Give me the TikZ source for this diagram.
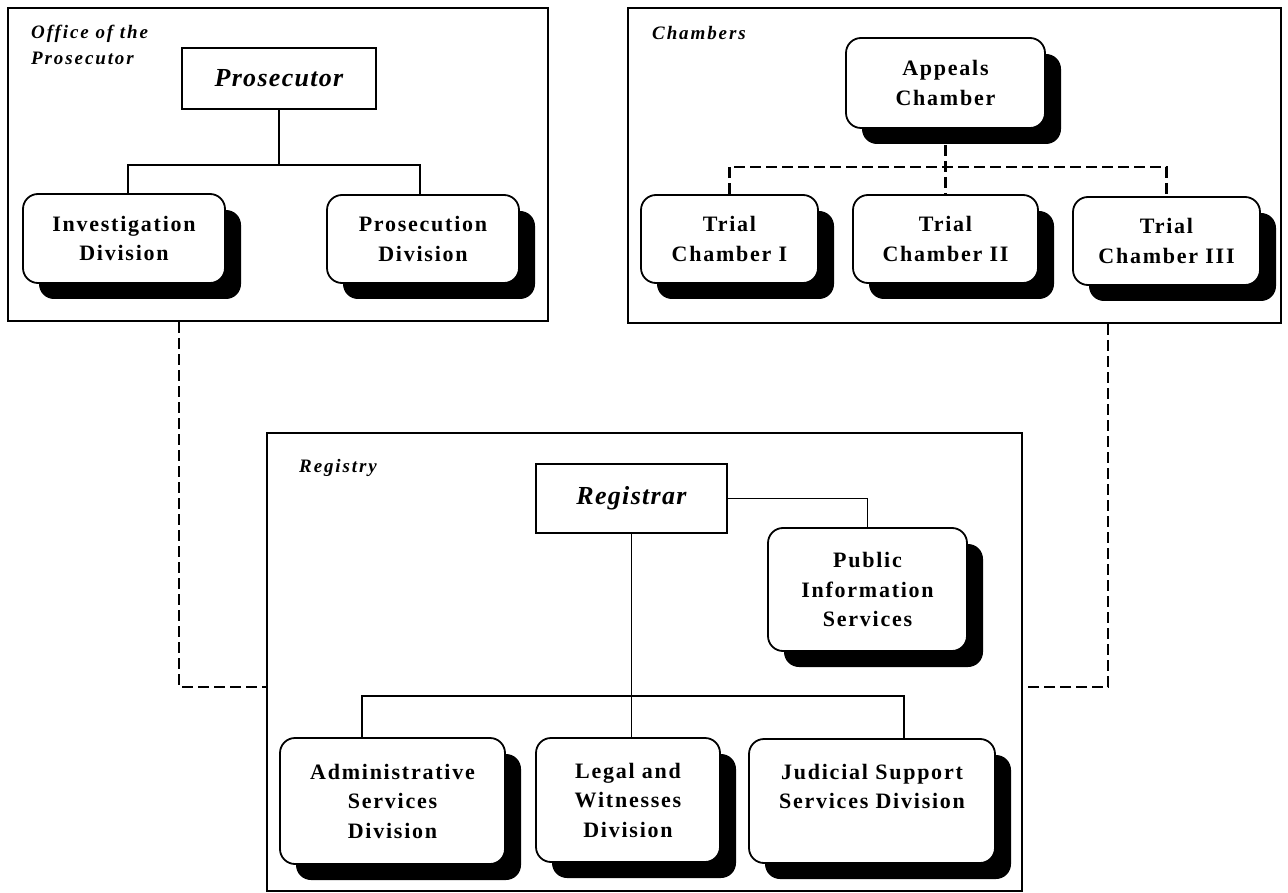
\documentclass[tikz,border=0pt]{standalone}
\usepackage{fontspec}
\setmainfont{Liberation Serif}
\newfontfamily\boxfont[LetterSpace=8]{Liberation Serif}
\newfontfamily\labfont[LetterSpace=10]{Liberation Serif}
\newfontfamily\headfont[LetterSpace=5]{Liberation Serif}
\usetikzlibrary{shadows,backgrounds}
\begin{document}
\begin{tikzpicture}[x=1pt,y=-1pt,
  frame/.style={draw,line width=2pt,inner sep=0pt},
  hbox/.style={draw,line width=1.8pt,fill=white,inner sep=0pt,
    font=\headfont\bfseries\itshape\fontsize{26}{30}\selectfont},
  rbox/.style={draw,line width=1.8pt,fill=white,rounded corners=15pt,inner sep=0pt,
    align=center,font=\boxfont\bfseries\fontsize{22}{29.5}\selectfont,
    general shadow={fill=black,shadow xshift=16pt,shadow yshift=-16pt}},
  lab/.style={inner sep=0pt,font=\labfont\bfseries\itshape\fontsize{19}{24}\selectfont},
  conn/.style={line width=1.9pt},
  dconn/.style={line width=2.3pt,dash pattern=on 11pt off 5pt}]
\useasboundingbox (0,0) rectangle (1288,893);

% frames
\node[frame,minimum width=540pt,minimum height=313pt] (office) at (278,164.5) {};
\node[frame,minimum width=653pt,minimum height=315pt] (chambers) at (954.5,165.5) {};
\node[frame,minimum width=755pt,minimum height=458pt] (registry) at (644.5,662) {};

% labels
\node[lab,anchor=base west] (lo1) at (31,39) {Office of the};
\node[lab,anchor=base west] (lo2) at (31,65) {Prosecutor};
\node[lab,anchor=base west] (lc) at (652,40) {Chambers};
\node[lab,anchor=base west] (lr) at (299,472) {Registry};

% office
\node[hbox,minimum width=194pt,minimum height=61pt] (pros) at (279,78.5) {Prosecutor};
\node[rbox,minimum width=202pt,minimum height=89pt] (inv) at (124,238.5) {Investigation\\Division};
\node[rbox,minimum width=192pt,minimum height=88pt] (prosdiv) at (423,239) {Prosecution\\Division};

% chambers
\node[rbox,minimum width=199pt,minimum height=90pt] (appeals) at (945.5,83) {Appeals\\Chamber};
\node[rbox,minimum width=177pt,minimum height=88pt] (tc1) at (729.5,239) {Trial\\Chamber I};
\node[rbox,minimum width=185pt,minimum height=88pt] (tc2) at (945.5,239) {Trial\\Chamber II};
\node[rbox,minimum width=187pt,minimum height=88pt] (tc3) at (1166.5,241) {Trial\\Chamber III};

% registry
\node[hbox,minimum width=191pt,minimum height=69pt] (registrar) at (631.5,498.5) {Registrar};
\node[rbox,minimum width=199pt,minimum height=123pt] (pis) at (867.5,589.5) {Public\\Information\\Services};
\node[rbox,minimum width=225pt,minimum height=126pt] (admin) at (392.5,801) {Administrative\\Services\\Division};
\node[rbox,minimum width=184pt,minimum height=124pt] (legal) at (628,800) {Legal and\\Witnesses\\Division};
\node[rbox,minimum width=246pt,minimum height=124pt] (judicial) at (872,801) {Judicial Support\\Services Division\\\phantom{D}};

% junction coordinates
\coordinate (obl) at (128,165);
\coordinate (obr) at (420,165);
\coordinate (cb) at (0,167);
\coordinate (rbl) at (362,696);
\coordinate (rbr) at (904,696);
\coordinate (lj) at (179,687);
\coordinate (rj) at (1108,687);

\begin{scope}[on background layer]
  \fill[white] (0,0) rectangle (1288,893);
  \draw[conn] (pros.south) -- (pros.south |- obl);
  \draw[conn] (obl |- inv.north) -- (obl) -- (obr) -- (obr |- prosdiv.north);
  \draw[dconn] (appeals.south) -- (tc2.north);
  \draw[dconn] (tc1.north) -- (tc1.north |- cb) -- (tc3.north |- cb) -- (tc3.north);
  \draw[conn] (registrar.east) -| (pis.north);
  \draw[conn] (registrar.south) -- (registrar.south |- legal.north);
  \draw[conn] (rbl |- admin.north) -- (rbl) -- (rbr) -- (rbr |- judicial.north);
  \draw[dconn] (lj |- office.south) -- (lj) -- (lj -| registry.west);
  \draw[dconn] (rj |- chambers.south) -- (rj) -- (rj -| registry.east);
\end{scope}
\end{tikzpicture}
\end{document}
